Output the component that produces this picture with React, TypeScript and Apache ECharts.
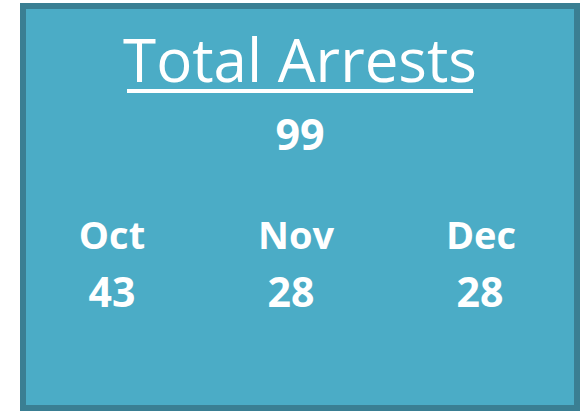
import React, { useEffect, useRef } from "react";
import * as echarts from "echarts";

const titleText = "Total Arrests";
const months = ["Oct", "Nov", "Dec"];
const counts = [43, 28, 28];
const total = 99;

const monthCenters = [112, 296, 481];
const countCenters = [112, 291, 480];

export default function App() {
  const ref = useRef<HTMLDivElement>(null);
  useEffect(() => {
    if (!ref.current) return;
    const chart = echarts.init(ref.current, undefined, { renderer: "svg" });
    const font = "'Open Sans', 'Noto Sans', sans-serif";
    const elements: any[] = [
      {
        type: "rect",
        shape: { x: 23, y: 6, width: 554, height: 402 },
        style: { fill: "#4BACC6", stroke: "#3A7F93", lineWidth: 6 },
      },
      {
        type: "text",
        x: 300,
        y: 59,
        style: {
          text: titleText,
          fill: "#FFFFFF",
          font: `normal 400 60px ${font}`,
          textAlign: "center",
          textVerticalAlign: "middle",
        },
      },
      {
        type: "rect",
        shape: { x: 127, y: 89, width: 346, height: 4 },
        style: { fill: "#FFFFFF" },
      },
      {
        type: "text",
        x: 300,
        y: 133,
        style: {
          text: String(total),
          fill: "#FFFFFF",
          font: `normal 700 43px ${font}`,
          textAlign: "center",
          textVerticalAlign: "middle",
        },
      },
    ];
    months.forEach((m, i) => {
      elements.push({
        type: "text",
        x: monthCenters[i],
        y: 234,
        style: {
          text: m,
          fill: "#FFFFFF",
          font: `normal 700 38px ${font}`,
          textAlign: "center",
          textVerticalAlign: "middle",
        },
      });
      elements.push({
        type: "text",
        x: countCenters[i],
        y: 291,
        style: {
          text: String(counts[i]),
          fill: "#FFFFFF",
          font: `normal 700 41px ${font}`,
          textAlign: "center",
          textVerticalAlign: "middle",
        },
      });
    });
    chart.setOption({ animation: false, graphic: { elements } });
    return () => chart.dispose();
  }, []);
  return (
    <div
      ref={ref}
      style={{ position: "fixed", left: 0, top: 0, width: 582, height: 411, background: "#FFFFFF" }}
    />
  );
}
